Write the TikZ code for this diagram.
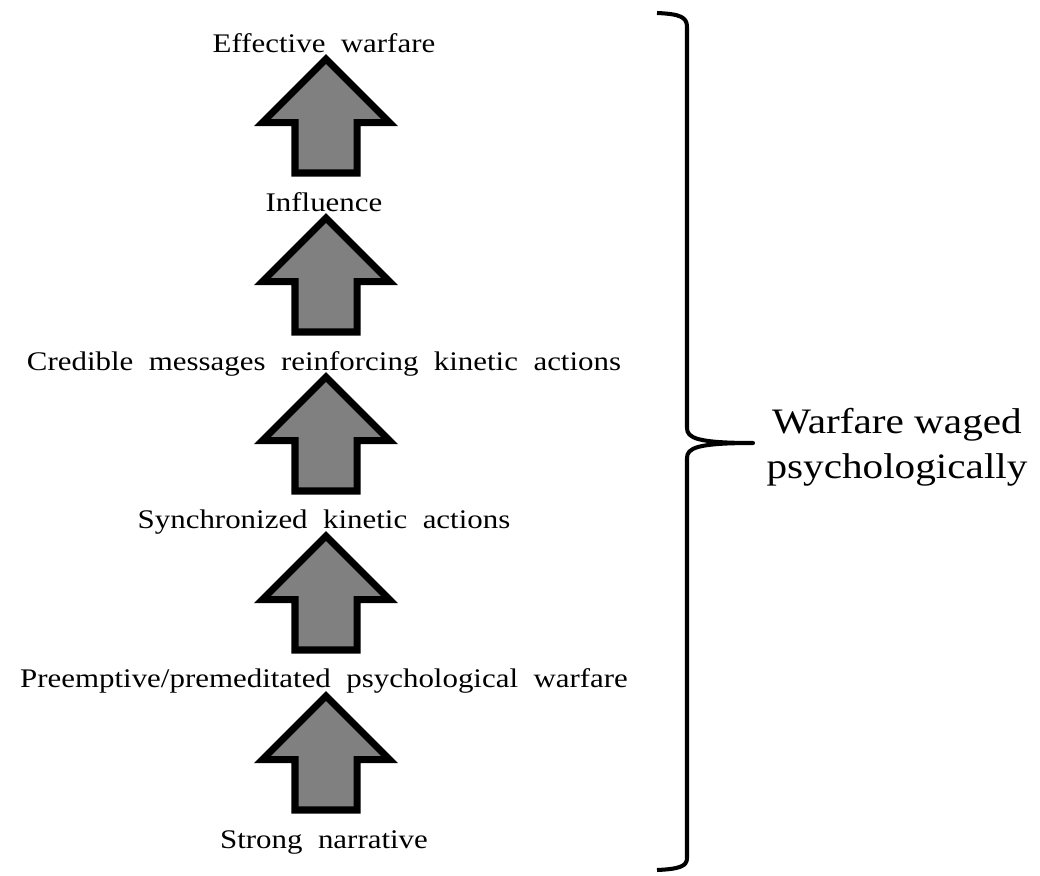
\documentclass[tikz,border=0pt]{standalone}
\usepackage{fontspec}
\setmainfont{Liberation Serif}[FakeStretch=1.15]
\newfontfamily\stagefont{Liberation Serif}[FakeStretch=1.15,WordSpace=2]
\usetikzlibrary{positioning,shapes.arrows}
\def\px{0.02cm}
\tikzstyle{stage}=[inner sep=0pt,anchor=base,font=\stagefont\fontsize{15.3}{18}\selectfont]
\tikzstyle{uparrow}=[single arrow,draw=black,fill=gray,line width=4pt,
  rotate=90,anchor=tail,inner xsep=0pt,inner ysep=0.55cm,
  minimum height=2.28cm,minimum width=2.4cm,
  single arrow head extend=0.65cm,single arrow tip angle=90]
\tikzstyle{brace}=[line width=2.3pt,line join=round]
\newcommand{\newStage}[3]{\node[stage](#1) at (#3) {#2};}
\newcommand{\newArrow}[2]{\node[uparrow](#1) at (#2) {};}

\begin{document}
\begin{tikzpicture}[x=\px,y=-\px]
    \useasboundingbox (0,0) rectangle (1040,875);
    % stages, bottom to top
    \newStage{narr}{Strong narrative}{324,848}
    \newStage{pre}{Preemptive/premeditated psychological warfare}{324,687}
    \newStage{sync}{Synchronized kinetic actions}{324,528}
    \newStage{cred}{Credible messages reinforcing kinetic actions}{324,370}
    \newStage{infl}{Influence}{324,211}
    \newStage{eff}{Effective warfare}{324,52}
    % block arrows between the stages
    \newArrow{a1}{326,813.5}
    \newArrow{a2}{326,653.5}
    \newArrow{a3}{326,494.5}
    \newArrow{a4}{326,335.5}
    \newArrow{a5}{326,176.5}
    % brace on the right
    \coordinate (btop) at (657,13);
    \coordinate (bmid) at (753,443);
    \coordinate (bbot) at (657,870);
    \draw[brace] (btop) .. controls (680,14) and (687,17) .. (687,27)
      -- (687,428) .. controls (687,438) and (697,443) .. (bmid)
      .. controls (697,443) and (687,448) .. (687,458)
      -- (687,858) .. controls (687,866) and (680,869) .. (bbot);
    \node[font=\fontsize{20.4}{25.5}\selectfont,align=center,inner sep=0pt]
      (waged) at (897,447) {Warfare waged\\psychologically};
\end{tikzpicture}
\end{document}
